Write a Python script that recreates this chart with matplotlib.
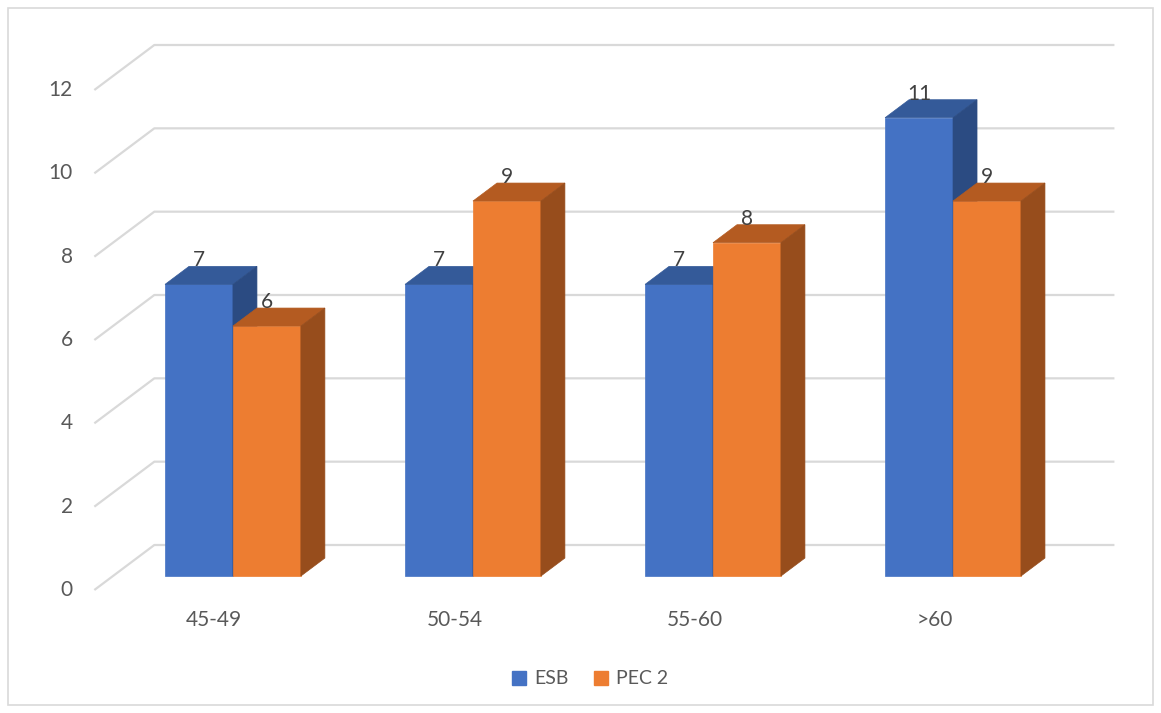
import numpy as np
import matplotlib
matplotlib.use("Agg")
import matplotlib.pyplot as plt
from matplotlib.patches import Polygon, Patch, Rectangle

plt.rcParams["font.family"] = ["Lato", "DejaVu Sans"]

categories = ["45-49", "50-54", "55-60", ">60"]
series_names = ["ESB", "PEC 2"]
esb = [7, 7, 7, 11]
pec2 = [6, 9, 8, 9]
yticks = [0, 2, 4, 6, 8, 10, 12]

front_cols = ["#4472C4", "#ED7D31"]
top_cols = ["#345A99", "#B45B21"]
side_cols = ["#2B4B82", "#974D1C"]
grid_col = "#D9D9D9"
text_col = "#595959"

# depth of the 3D box in data units (x, y) and where bars sit inside it
DX, DY = 0.25, 1.08
D0, D1 = 0.31, 0.71
BW = 0.283

fig = plt.figure(figsize=(11.61, 7.13), dpi=100)
ax = fig.add_axes([0, 0, 1, 1])
ax.set_xlim(-0.893, 3.944)
ax.set_ylim(-2.952, 14.16)
ax.axis("off")

# outer chart frame
fig.patches.append(Rectangle((8 / 1161, 8 / 713), 1 - 16 / 1161, 1 - 16 / 713,
                             transform=fig.transFigure, fill=False,
                             ec="#D9D9D9", lw=1.2))

# gridlines: side wall diagonal + back wall horizontal
x0, x1 = -0.5, len(categories) - 0.5
for v in yticks:
    ax.plot([x0, x0 + DX, x1 + DX], [v, v + DY, v + DY], color=grid_col,
            lw=1.6, zorder=1, solid_capstyle="butt")
    ax.text(-0.59, v, str(v), ha="right", va="center", fontsize=15, color=text_col)

def bar3d(xl, h, k):
    xr = xl + BW
    fx, fy = D0 * DX, D0 * DY
    bx, by = D1 * DX, D1 * DY
    front = [(xl + fx, fy), (xr + fx, fy), (xr + fx, h + fy), (xl + fx, h + fy)]
    top = [(xl + fx, h + fy), (xr + fx, h + fy), (xr + bx, h + by), (xl + bx, h + by)]
    side = [(xr + fx, fy), (xr + bx, by), (xr + bx, h + by), (xr + fx, h + fy)]
    for pts, c in [(front, front_cols[k]), (top, top_cols[k]), (side, side_cols[k])]:
        ax.add_patch(Polygon(pts, closed=True, fc=c, ec=c, lw=0.5, zorder=3))
    ax.text(xl + fx + BW / 2, h + by, str(h), ha="center", va="baseline",
            fontsize=15, color="#404040", zorder=5)

for i, cat in enumerate(categories):
    for k, vals in enumerate([esb, pec2]):
        bar3d(i - BW + k * BW, vals[i], k)
    ax.text(i, -0.72, cat, ha="center", va="center", fontsize=15, color=text_col)

handles = [Patch(fc=c, ec=c) for c in front_cols]
fig.legend(handles, series_names, loc="center", bbox_to_anchor=(590 / 1161, 1 - 679 / 713),
           ncol=2, frameon=False, fontsize=14, handlelength=0.75, handleheight=0.75,
           handletextpad=0.4, columnspacing=1.3, labelcolor=text_col)

fig.savefig("out.png", dpi=100)
